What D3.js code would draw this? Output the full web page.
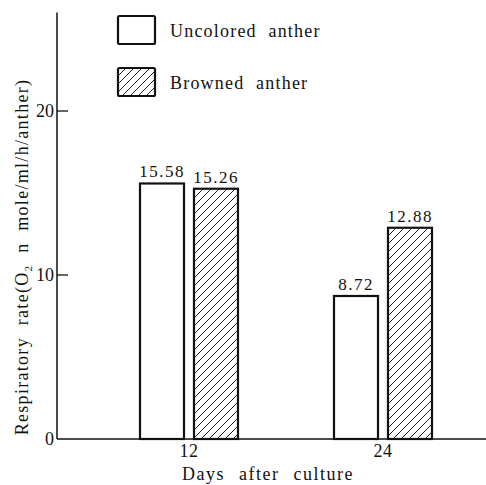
<!DOCTYPE html>
<html>
<head>
<meta charset="utf-8">
<script src="https://cdn.jsdelivr.net/npm/d3@7"></script>
<style>
  body { margin: 0; background: #fff; }
  text { font-family: "Liberation Serif", "DejaVu Serif", serif; fill: #111; }
</style>
</head>
<body>
<div id="chart"></div>
<script>
// data
var days = ["12", "24"];
var seriesNames = ["Uncolored anther", "Browned anther"];
var uncolored = [15.58, 8.72];
var browned = [15.26, 12.88];
var valueLabels = [["15.58", "8.72"], ["15.26", "12.88"]];
var yTicks = [0, 10, 20];

var width = 486, height = 485;
var margin = {top: 13, right: 0, bottom: 46, left: 57};

var svg = d3.select("#chart")
  .append("svg")
    .attr("width", width)
    .attr("height", height);

// hatch for browned anther
var defs = svg.append("defs");
defs.append("pattern")
    .attr("id", "hatch")
    .attr("patternUnits", "userSpaceOnUse")
    .attr("width", 8)
    .attr("height", 8)
  .append("path")
    .attr("d", "M0,8 L8,0 M-2,2 L2,-2 M6,10 L10,6")
    .attr("stroke", "#222")
    .attr("stroke-width", 1);

var y = d3.scaleLinear()
  .domain([0, 26])
  .range([439, 439 - 26 * 16.4]);

var x = d3.scalePoint()
  .domain(days)
  .range([189, 383]);

var barW = 44, gap = 5;

// axes
svg.append("line")
  .attr("x1", margin.left).attr("x2", margin.left)
  .attr("y1", y(0)).attr("y2", y(26))
  .attr("stroke", "#111").attr("stroke-width", 1.5);

svg.append("line")
  .attr("x1", margin.left).attr("x2", width)
  .attr("y1", y(0)).attr("y2", y(0))
  .attr("stroke", "#111").attr("stroke-width", 1.5);

// y ticks
var yt = svg.append("g").selectAll("g")
  .data(yTicks)
  .enter().append("g");
yt.filter(d => d > 0).append("line")
  .attr("x1", margin.left).attr("x2", margin.left + 11)
  .attr("y1", d => y(d)).attr("y2", d => y(d))
  .attr("stroke", "#111").attr("stroke-width", 1.3);
yt.append("text")
  .attr("x", margin.left - 3)
  .attr("y", d => y(d) + 6)
  .attr("text-anchor", "end")
  .style("font-size", "18px")
  .text(d => d);

// x tick labels
svg.append("g").selectAll("text")
  .data(days)
  .enter().append("text")
    .attr("x", d => x(d))
    .attr("y", 457)
    .attr("text-anchor", "middle")
    .style("font-size", "18px")
    .style("letter-spacing", "0.5px")
    .text(d => d);

// bars
var series = [uncolored, browned];
series.forEach(function(vals, si) {
  var g = svg.append("g");
  g.selectAll("rect")
    .data(days)
    .enter().append("rect")
      .attr("x", (d, i) => si === 0 ? x(d) - gap - barW : x(d) + gap)
      .attr("y", (d, i) => y(vals[i]))
      .attr("width", barW)
      .attr("height", (d, i) => y(0) - y(vals[i]))
      .attr("fill", si === 0 ? "#fff" : "url(#hatch)")
      .attr("stroke", "#111")
      .attr("stroke-width", 2.2);
  g.selectAll("text")
    .data(days)
    .enter().append("text")
      .attr("x", (d, i) => (si === 0 ? x(d) - gap - barW : x(d) + gap) + barW / 2)
      .attr("y", (d, i) => y(vals[i]) - 6)
      .attr("text-anchor", "middle")
      .style("font-size", "17px")
      .style("letter-spacing", "1.5px")
      .text((d, i) => valueLabels[si][i]);
});

// legend
var legend = svg.append("g").selectAll("g")
  .data(seriesNames)
  .enter().append("g")
    .attr("transform", (d, i) => "translate(118," + (16 + i * 52) + ")");
legend.append("rect")
  .attr("width", 37).attr("height", 28)
  .attr("rx", 1.5)
  .attr("fill", (d, i) => i === 0 ? "#fff" : "url(#hatch)")
  .attr("stroke", "#111")
  .attr("stroke-width", 2.2);
legend.append("text")
  .attr("x", 52)
  .attr("y", 21)
  .style("font-size", "18px")
  .style("letter-spacing", "1.2px")
  .style("word-spacing", "6px")
  .text(d => d);

// axis labels
svg.append("text")
  .attr("x", 268)
  .attr("y", 480)
  .attr("text-anchor", "middle")
  .style("font-size", "18px")
  .style("letter-spacing", "1.5px")
  .style("word-spacing", "8px")
  .text("Days after culture");

var yl = svg.append("text")
  .attr("transform", "translate(28," + 257 + ") rotate(-90)")
  .attr("text-anchor", "middle")
  .style("font-size", "18px")
  .style("letter-spacing", "1.3px")
  .style("word-spacing", "6px");
yl.append("tspan").text("Respiratory rate(O");
yl.append("tspan").attr("dy", 4).style("font-size", "11px").text("2");
yl.append("tspan").attr("dy", -4).text(" n mole/ml/h/anther)");
</script>
</body>
</html>
